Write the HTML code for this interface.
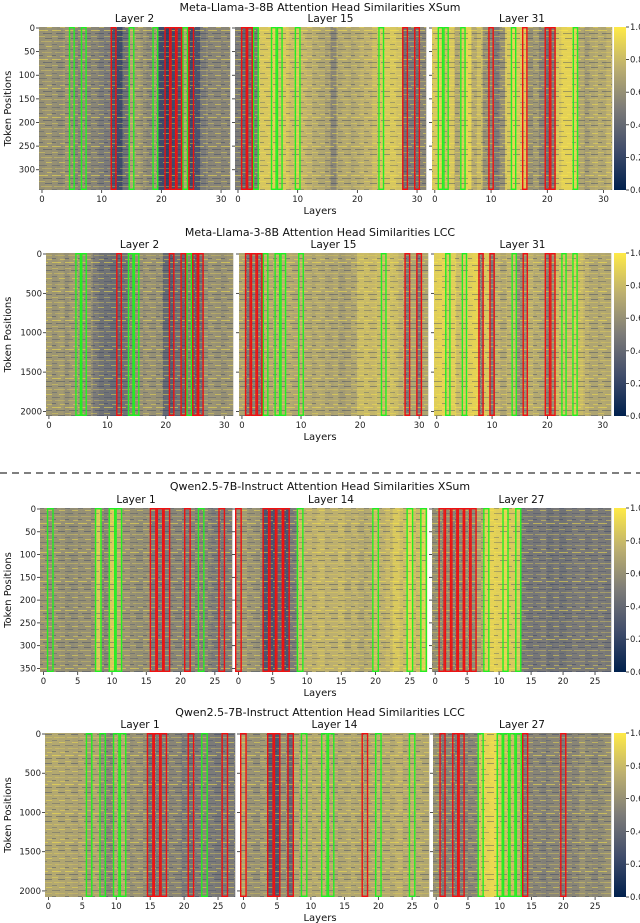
<!DOCTYPE html>
<html><head><meta charset="utf-8">
<style>
html,body{margin:0;padding:0;background:#fff;}
svg{display:block;font-family:"DejaVu Sans","Liberation Sans",sans-serif;}
</style></head>
<body>
<svg id="fig" width="640" height="923" viewBox="0 0 640 923" xmlns="http://www.w3.org/2000/svg">
<defs>
<pattern id="tex" width="13" height="29" patternUnits="userSpaceOnUse">
<rect x="0" y="1" width="9" height="1" fill="#ffe945" opacity="0.5"/>
<rect x="4" y="4" width="9" height="1" fill="#1d2f5e" opacity="0.35"/>
<rect x="0" y="7" width="6" height="1" fill="#ffe945" opacity="0.35"/>
<rect x="6" y="9" width="7" height="1" fill="#2a3a66" opacity="0.4"/>
<rect x="2" y="12" width="11" height="1" fill="#f3dc50" opacity="0.35"/>
<rect x="0" y="15" width="5" height="1" fill="#3b4a70" opacity="0.35"/>
<rect x="7" y="17" width="6" height="1" fill="#ffe945" opacity="0.45"/>
<rect x="0" y="20" width="8" height="1" fill="#2a3a66" opacity="0.3"/>
<rect x="3" y="23" width="10" height="1" fill="#f3dc50" opacity="0.3"/>
<rect x="0" y="26" width="4" height="1" fill="#1d2f5e" opacity="0.35"/>
<rect x="8" y="27" width="5" height="1" fill="#ffe945" opacity="0.4"/>
</pattern>
<linearGradient id="cmap" x1="0" y1="1" x2="0" y2="0">
<stop offset="0" stop-color="#00204d"/><stop offset="0.25" stop-color="#414d6b"/>
<stop offset="0.5" stop-color="#7c7b78"/><stop offset="0.75" stop-color="#bcaf6f"/>
<stop offset="1" stop-color="#ffea46"/>
</linearGradient>
</defs>
<line x1="0" y1="473" x2="640" y2="473" stroke="#333" stroke-width="1.3" stroke-dasharray="7,5"/>
</svg>
<script>
// ---- data ----
const rowTitles = ["Meta-Llama-3-8B Attention Head Similarities XSum","Meta-Llama-3-8B Attention Head Similarities LCC","Qwen2.5-7B-Instruct Attention Head Similarities XSum","Qwen2.5-7B-Instruct Attention Head Similarities LCC"];
const layerLabels = [["Layer 2","Layer 15","Layer 31"],["Layer 2","Layer 15","Layer 31"],["Layer 1","Layer 14","Layer 27"],["Layer 1","Layer 14","Layer 27"]];
const headCounts = [32,32,28,28];
const tokenMax = [345,2070,360,2090];
const xTickLabels = [[0,10,20,30],[0,10,20,30],[0,5,10,15,20,25],[0,5,10,15,20,25]];
const yTickLabels = [[0,50,100,150,200,250,300],[0,500,1000,1500,2000],[0,50,100,150,200,250,300,350],[0,500,1000,1500,2000]];
const cbarTicks = [0,0.2,0.4,0.6,0.8,1.0];

const meansR1 = [
[0.6,0.62,0.6,0.58,0.62,0.6,0.55,0.6,0.55,0.55,0.5,0.5,0.3,0.25,0.45,0.7,0.65,0.6,0.55,0.65,0.25,0.2,0.25,0.3,0.7,0.25,0.3,0.5,0.55,0.55,0.55,0.55],
[0.5,0.4,0.45,0.5,0.85,0.85,0.88,0.82,0.85,0.8,0.85,0.78,0.75,0.72,0.7,0.68,0.55,0.7,0.72,0.7,0.72,0.75,0.75,0.8,0.85,0.85,0.85,0.82,0.45,0.5,0.45,0.55],
[0.85,0.88,0.8,0.85,0.7,0.85,0.9,0.72,0.8,0.6,0.55,0.5,0.6,0.85,0.9,0.85,0.85,0.6,0.65,0.55,0.45,0.5,0.85,0.9,0.9,0.88,0.7,0.65,0.7,0.72,0.7,0.75]];
const meansR2 = [
[0.65,0.62,0.65,0.6,0.65,0.65,0.62,0.6,0.5,0.45,0.45,0.42,0.4,0.45,0.55,0.6,0.6,0.62,0.6,0.6,0.4,0.35,0.45,0.4,0.55,0.4,0.45,0.6,0.62,0.6,0.6,0.62],
[0.7,0.5,0.55,0.5,0.75,0.72,0.75,0.75,0.72,0.7,0.75,0.72,0.7,0.72,0.7,0.68,0.7,0.65,0.68,0.7,0.8,0.8,0.78,0.8,0.8,0.82,0.8,0.75,0.5,0.7,0.5,0.7],
[0.88,0.9,0.85,0.88,0.8,0.85,0.88,0.9,0.55,0.85,0.5,0.75,0.7,0.75,0.8,0.6,0.6,0.75,0.72,0.7,0.55,0.6,0.8,0.82,0.8,0.85,0.8,0.75,0.7,0.7,0.72,0.7]];
const meansR3 = [
[0.62,0.6,0.62,0.6,0.58,0.6,0.6,0.6,0.85,0.55,0.85,0.75,0.62,0.6,0.58,0.6,0.5,0.5,0.5,0.55,0.55,0.5,0.55,0.55,0.55,0.5,0.5,0.52],
[0.6,0.65,0.62,0.6,0.3,0.3,0.4,0.3,0.5,0.8,0.75,0.75,0.78,0.75,0.75,0.78,0.72,0.75,0.7,0.72,0.8,0.75,0.78,0.85,0.8,0.9,0.8,0.88],
[0.6,0.58,0.6,0.55,0.58,0.6,0.58,0.7,0.88,0.9,0.88,0.9,0.85,0.85,0.5,0.48,0.48,0.5,0.45,0.48,0.45,0.48,0.5,0.5,0.48,0.5,0.5,0.48]];
const meansR4 = [
[0.7,0.72,0.7,0.7,0.68,0.7,0.65,0.7,0.6,0.55,0.7,0.72,0.6,0.62,0.6,0.45,0.5,0.5,0.55,0.55,0.5,0.45,0.5,0.55,0.5,0.48,0.5,0.5],
[0.7,0.62,0.6,0.65,0.35,0.3,0.6,0.4,0.7,0.75,0.72,0.72,0.75,0.72,0.7,0.7,0.72,0.7,0.65,0.72,0.75,0.72,0.72,0.75,0.72,0.75,0.72,0.7],
[0.6,0.5,0.55,0.5,0.5,0.55,0.55,0.85,0.9,0.92,0.85,0.8,0.8,0.75,0.5,0.55,0.55,0.52,0.55,0.55,0.5,0.55,0.55,0.6,0.58,0.55,0.58,0.6]];
const greenR1 = [[5,7,15,19,24],[3,6,7,10,24],[1,2,5,14,25]];
const redR1 = [[12,21,22,23,25],[1,2,28,30],[10,16,20,21]];
const greenR2 = [[5,6,14,15,24],[4,6,7,10,24],[2,5,14,23,25]];
const redR2 = [[12,21,23,25,26],[1,2,3,28,30],[8,10,16,20,21]];
const greenR3 = [[1,8,10,11,23],[9,20,25,27],[8,11,13]];
const redR3 = [[16,17,18,21,26],[0,4,5,6,7],[1,2,3,4,5,6]];
const greenR4 = [[6,8,10,11,23],[9,12,13,20,25],[7,10,11,12,13]];
const redR4 = [[15,16,17,21,26],[0,4,5,7,18],[1,3,4,14,20]];

// ---- layout ----
const allMeans=[meansR1,meansR2,meansR3,meansR4];
const allGreen=[greenR1,greenR2,greenR3,greenR4];
const allRed=[redR1,redR2,redR3,redR4];
const rowY=[[27,190],[253,416],[508,672],[733,897]];
const rowTitleY=[11,236,490,716];
const panelX=[
 [[39,230],[235,426],[432,612]],
 [[46,233],[239,428],[434,611]],
 [[40,232],[235,427],[432,611]],
 [[45,235],[240,429],[433,611]]];
const NS="http://www.w3.org/2000/svg";
const svg=document.getElementById('fig');
function mk(tag,attrs,parent){const e=document.createElementNS(NS,tag);for(const k in attrs)e.setAttribute(k,attrs[k]);(parent||svg).appendChild(e);return e;}
const stops=[[0,[0,32,77]],[0.25,[65,77,107]],[0.5,[124,123,120]],[0.75,[188,175,111]],[1,[255,234,70]]];
function cividis(v){v=Math.max(0,Math.min(1,v));for(let i=0;i<4;i++){const a=stops[i],b=stops[i+1];if(v<=b[0]){const t=(v-a[0])/(b[0]-a[0]);const c=a[1].map((x,j)=>Math.round(x+(b[1][j]-x)*t));return `rgb(${c[0]},${c[1]},${c[2]})`;}}return 'rgb(255,234,70)';}

for(let r=0;r<4;r++){
 const [y0,y1]=rowY[r];
 const n=headCounts[r];
 const t=mk('text',{x:320,y:rowTitleY[r],'text-anchor':'middle','font-size':11,fill:'#111'});
 
 
 t.textContent=rowTitles[r];
 for(let p=0;p<3;p++){
  const [x0,x1]=panelX[r][p];
  const w=(x1-x0)/n;
  const xs=i=>x0+i*w;
  const ys=v=>y0+(v/tokenMax[r])*(y1-y0);
  const g=mk('g',{});
  
  
  const lt=mk('text',{x:(x0+x1)/2,y:y0-5,'text-anchor':'middle','font-size':10.5,fill:'#111'},g);
  
  
  lt.textContent=layerLabels[r][p];
  allMeans[r][p].forEach((v,i)=>{
   const c=mk('rect',{x:xs(i),y:y0,width:w+0.3,height:y1-y0,fill:cividis(v)},g);
   
   
  });
  mk('rect',{x:x0,y:y0,width:x1-x0,height:y1-y0,fill:'url(#tex)'},g);
  allGreen[r][p].forEach(i=>{
   const b=mk('rect',{x:xs(i)+0.7,y:y0+0.7,width:w-1.4,height:y1-y0-1.4,fill:'none',stroke:'#22ee22','stroke-width':1.4},g);
   
   
  });
  allRed[r][p].forEach(i=>{
   const b=mk('rect',{x:xs(i)+0.7,y:y0+0.7,width:w-1.4,height:y1-y0-1.4,fill:'none',stroke:'#ee1111','stroke-width':1.4},g);
   
   
  });
  xTickLabels[r].forEach(v=>{
   const x=xs(v)+w/2;
   mk('line',{x1:x,x2:x,y1:y1,y2:y1+3,stroke:'#222','stroke-width':0.8},g);
   const tx=mk('text',{x:x,y:y1+12,'text-anchor':'middle','font-size':8.5,fill:'#222'},g);
   
   
   tx.textContent=v;
  });
  yTickLabels[r].forEach(v=>{
   const y=ys(v)+1;
   mk('line',{x1:x0-3,x2:x0,y1:y,y2:y,stroke:'#222','stroke-width':0.8},g);
   if(p===0){
    const ty=mk('text',{x:x0-4,y:y+3,'text-anchor':'end','font-size':8.5,fill:'#222'},g);
    
    
    ty.textContent=v;
   }
  });
 }
 const xl=mk('text',{x:320,y:y1+24,'text-anchor':'middle','font-size':10,fill:'#111'});
 
 
 xl.textContent='Layers';
 const yl=mk('text',{x:0,y:0,'text-anchor':'middle','font-size':10,fill:'#111',transform:`translate(11,${(y0+y1)/2}) rotate(-90)`});
 
 
 yl.textContent='Token Positions';
 const cb=mk('rect',{x:614,y:y0,width:12,height:y1-y0,fill:'url(#cmap)'});
 
 
 cbarTicks.forEach(v=>{
  const y=y1-v*(y1-y0);
  mk('line',{x1:626,x2:629,y1:y,y2:y,stroke:'#222','stroke-width':0.8});
  const ct=mk('text',{x:630,y:y+3,'font-size':8.5,fill:'#222'});
  
  
  ct.textContent=v.toFixed(1);
 });
}
</script>
</body></html>
